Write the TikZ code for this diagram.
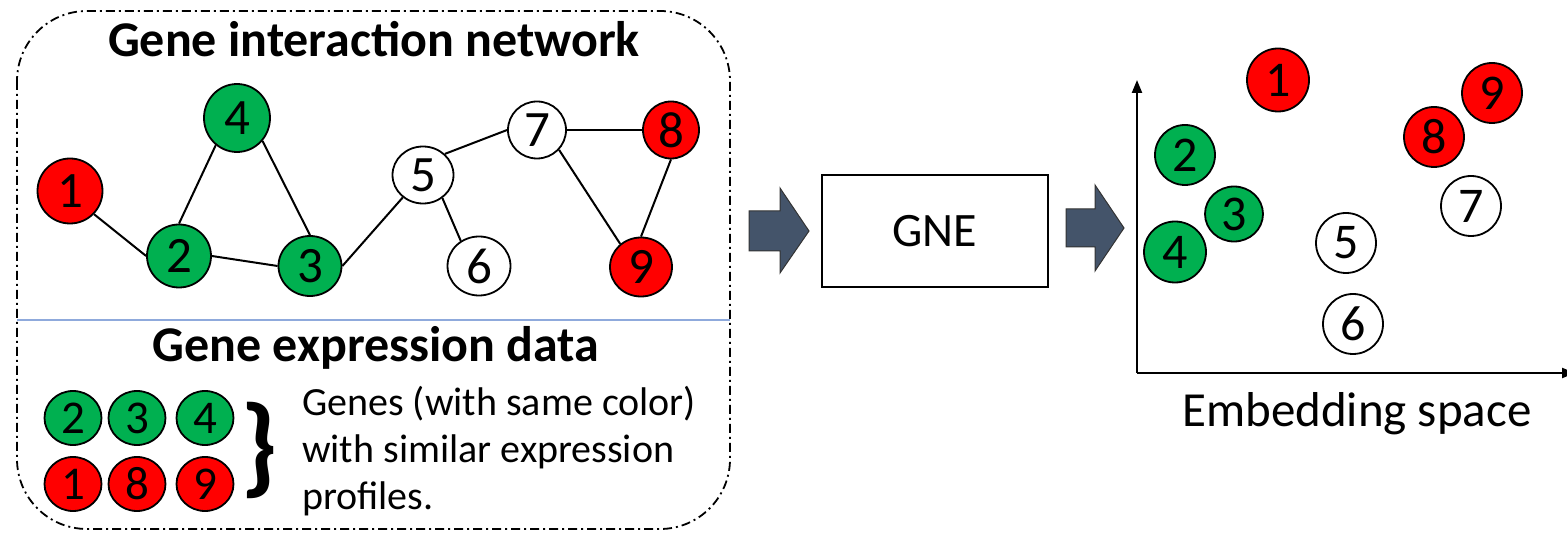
\documentclass[tikz,border=0pt]{standalone}
\usepackage{fontspec}
\setmainfont{Carlito}
\usetikzlibrary{arrows.meta,shapes.geometric}
\definecolor{geneGreen}{HTML}{00B050}
\definecolor{geneRed}{HTML}{FF0000}
\definecolor{sepBlue}{HTML}{8FAADC}
\definecolor{blockSlate}{HTML}{44546A}
\begin{document}
\begin{tikzpicture}[x=1pt,y=-1pt,
  gene/.style={ellipse, draw=black, line width=1.8pt, inner sep=0pt,
    minimum width=64pt, minimum height=64pt, font=\fontsize{51}{51}\selectfont},
  mini/.style={gene, minimum width=57pt, minimum height=54pt, font=\fontsize{47}{47}\selectfont},
  emb/.style={gene, minimum width=60pt, minimum height=60pt, font=\fontsize{50}{50}\selectfont},
  G/.style={fill=geneGreen}, R/.style={fill=geneRed}, W/.style={fill=white},
  edge/.style={line width=2pt},
  heading/.style={font=\bfseries\fontsize{50}{50}\selectfont, anchor=base, inner sep=0pt},
  body/.style={font=\fontsize{40}{40}\selectfont, anchor=base west, inner sep=0pt},
  block/.style={fill=blockSlate, draw=black!80, line width=1pt, line join=miter},
  axis/.style={line width=2.2pt, -{Triangle[length=13pt,width=10pt]}}
]
\path[use as bounding box] (0,0) rectangle (1567,534);

% framed input panel
\draw[line width=1.8pt, dash pattern=on 9pt off 4pt on 2pt off 4pt, rounded corners=70pt]
  (17,11) rectangle (730,529);
\draw[sepBlue, line width=1.3pt] (17,320) -- (730,320);

\node[heading] (netTitle) at (374,57) {Gene interaction network};
\node[heading] (exprTitle) at (376,362) {Gene expression data};

% interaction network
\node[gene,R,minimum width=65pt,minimum height=65pt] (n1) at (70,191) {1};
\node[gene,G,minimum width=64pt,minimum height=63pt] (n2) at (179,256) {2};
\node[gene,G,minimum width=63pt,minimum height=60pt] (n3) at (310,266) {3};
\node[gene,G,minimum width=66pt,minimum height=68pt] (n4) at (237,118) {4};
\node[gene,W,minimum width=61pt,minimum height=57pt] (n5) at (423,175) {5};
\node[gene,W,minimum width=63pt,minimum height=59pt] (n6) at (479,266) {6};
\node[gene,W,minimum width=58pt,minimum height=57pt] (n7) at (537,130) {7};
\node[gene,R,minimum width=56pt,minimum height=57pt] (n8) at (671,130) {8};
\node[gene,R,minimum width=62pt,minimum height=59pt] (n9) at (641,267) {9};

\draw[edge] (n1.-44) -- (n2.180);
\draw[edge] (n2.90) -- (n4.232);
\draw[edge] (n4.-42) -- (n3.90);
\draw[edge] (n2.0) -- (n3.180);
\draw[edge] (n3.0) -- (n5.228);
\draw[edge] (n5.44) -- (n7.180);
\draw[edge] (n5.-50) -- (n6.126);
\draw[edge] (n7.0) -- (n8.180);
\draw[edge] (n7.-42) -- (n9.132);
\draw[edge] (n8.-90) -- (n9.90);

% expression groups
\node[mini,G] (s2) at (73,418) {2};
\node[mini,G] (s3) at (137,418) {3};
\node[mini,G] (s4) at (205,418) {4};
\node[mini,R] (s1) at (73,484) {1};
\node[mini,R] (s8) at (137,484) {8};
\node[mini,R] (s9) at (205,484) {9};
\node[inner sep=0pt, font=\bfseries\fontsize{110}{110}\selectfont] (brace) at (259,450) {\}};

\node[body] (l1) at (302,416) {Genes (with same color)};
\node[body] (l2) at (302,463) {with similar expression};
\node[body] (l3) at (302,510) {profiles.};

% block arrows and GNE
\draw[block] (749,211) -- (780,211) -- (780,188) -- (809,231) -- (780,273) -- (780,251) -- (749,251) -- cycle;
\node[draw, line width=2pt, minimum width=226pt, minimum height=112pt, inner sep=0pt,
  font=\fontsize{48}{48}\selectfont] (gne) at (935,231) {GNE};
\draw[block] (1066,209) -- (1095,209) -- (1095,185) -- (1124,228) -- (1095,271) -- (1095,247) -- (1066,247) -- cycle;

% embedding space
\coordinate (origin) at (1137,373);
\coordinate (yTip) at (1137,80);
\coordinate (xTip) at (1575,373);
\draw[axis] (origin) -- (yTip);
\draw[axis] (origin) -- (xTip);

\node[emb,R,minimum width=62pt,minimum height=63pt] (e1) at (1278,80) {1};
\node[emb,G] (e2) at (1185,155) {2};
\node[emb,G,minimum width=58pt,minimum height=55pt] (e3) at (1234,214) {3};
\node[emb,G,minimum width=62pt,minimum height=61pt] (e4) at (1175,252) {4};
\node[emb,W] (e5) at (1346,243) {5};
\node[emb,W] (e6) at (1353,324) {6};
\node[emb,W] (e7) at (1471,206) {7};
\node[emb,R] (e8) at (1434,137) {8};
\node[emb,R] (e9) at (1492,93) {9};

\node[body, font=\fontsize{49}{49}\selectfont] (embLabel) at (1182,427) {Embedding space};
\end{tikzpicture}
\end{document}
